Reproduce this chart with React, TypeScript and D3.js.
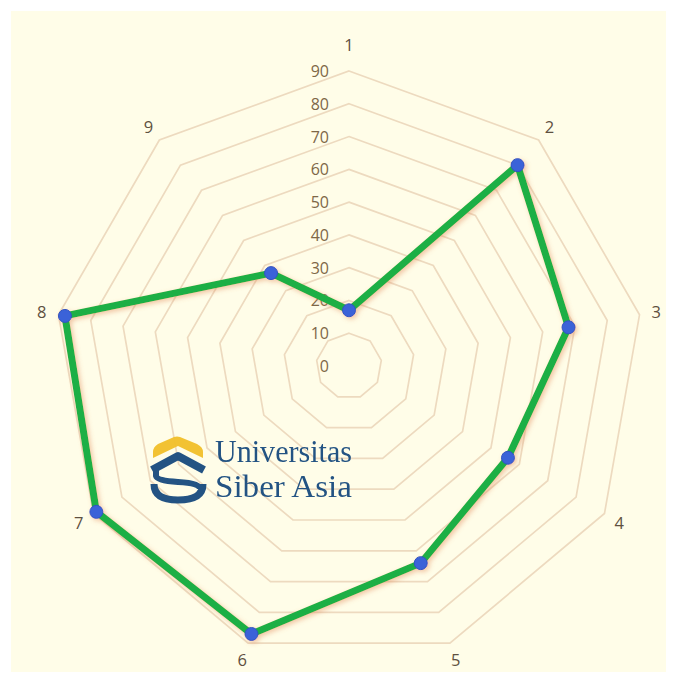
import React from "react";
import * as d3 from "d3";

const categories = ["1", "2", "3", "4", "5", "6", "7", "8", "9"];
const values = [17, 80, 68, 56, 64, 87, 89, 88, 37];
const ticks = [0, 10, 20, 30, 40, 50, 60, 70, 80, 90];

const W = 677;
const H = 683;
const cx = 349;
const cy = 366;
const R = 295;

export default function App() {
  const r = d3.scaleLinear().domain([0, 90]).range([0, R]);
  const n = categories.length;
  const ang = (i: number) => (i * 2 * Math.PI) / n;
  const pt = (i: number, v: number): [number, number] => [
    cx + r(v) * Math.sin(ang(i)),
    cy - r(v) * Math.cos(ang(i)),
  ];
  const ring = (v: number) =>
    d3.line()(categories.map((_, i) => pt(i, v))) + "Z";
  const series = d3.line()(values.map((v, i) => pt(i, v))) + "Z";
  const labelR = 312;
  const font = "'Open Sans', 'Noto Sans', sans-serif";

  return (
    <svg
      width={W}
      height={H}
      style={{ position: "absolute", left: 0, top: 0 }}
      xmlns="http://www.w3.org/2000/svg"
    >
      <defs>
        <filter id="glow" x="-10%" y="-10%" width="120%" height="120%">
          <feGaussianBlur in="SourceAlpha" stdDeviation="2.5" result="b" />
          <feOffset in="b" dx="2" dy="2" result="o" />
          <feFlood floodColor="#E0824F" floodOpacity="0.45" />
          <feComposite in2="o" operator="in" result="s" />
          <feMerge>
            <feMergeNode in="s" />
            <feMergeNode in="SourceGraphic" />
          </feMerge>
        </filter>
      </defs>
      <rect x={0} y={0} width={W} height={H} fill="#ffffff" />
      <rect x={11} y={11} width={655} height={661} fill="#FFFDE8" />
      {ticks
        .filter((t) => t > 0)
        .map((t) => (
          <path
            key={t}
            d={ring(t)}
            fill="none"
            stroke="#EDDABF"
            strokeWidth={1.7}
          />
        ))}
      {ticks.map((t) => (
        <text
          key={"t" + t}
          x={329}
          y={cy - r(t)}
          textAnchor="end"
          dominantBaseline="central"
          fontFamily={font}
          fontSize={16}
          fill="#7E6747"
        >
          {t}
        </text>
      ))}
      {categories.map((c, i) => {
        const lx = cx + labelR * Math.sin(ang(i));
        const ly = cy - labelR * Math.cos(ang(i)) - (i === 0 ? 10 : 0);
        return (
          <text
            key={"c" + c}
            x={lx}
            y={ly}
            textAnchor="middle"
            dominantBaseline="central"
            fontFamily={font}
            fontSize={16.5}
            fill="#5E5040"
          >
            {c}
          </text>
        );
      })}
      {/* watermark logo */}
      <g opacity={0.97}>
        <path
          d="M153,458 L153,452 Q153,447 158,444 L174,437 Q177,436 180,437 L197,444 Q203,447 203,452 L203,458 L178,446 Z"
          fill="#F2C12E"
        />
        <path
          d="M152,470 L178,456 L204,470"
          fill="none"
          stroke="#1C4E80"
          strokeWidth={8}
          strokeLinejoin="round"
        />
        <path
          d="M156,468 L156,476 Q157,481 178,482 Q200,483 200,489"
          fill="none"
          stroke="#1C4E80"
          strokeWidth={6}
        />
        <path
          d="M154,484 Q154,500 178,500 Q203,500 203,484"
          fill="none"
          stroke="#1C4E80"
          strokeWidth={7}
        />
        <text
          x={215}
          y={462}
          fontFamily="'Liberation Serif', 'DejaVu Serif', serif"
          fontSize={32}
          fill="#1C4E80"
          textLength={137}
          lengthAdjust="spacingAndGlyphs"
        >
          Universitas
        </text>
        <text
          x={215}
          y={497}
          fontFamily="'Liberation Serif', 'DejaVu Serif', serif"
          fontSize={32}
          fill="#1C4E80"
          textLength={137}
          lengthAdjust="spacingAndGlyphs"
        >
          Siber Asia
        </text>
      </g>
      <g filter="url(#glow)">
        <path
          d={series}
          fill="none"
          stroke="#1DAF45"
          strokeWidth={7}
          strokeLinejoin="round"
        />
        {values.map((v, i) => {
          const [x, y] = pt(i, v);
          return (
            <circle
              key={"p" + i}
              cx={x}
              cy={y}
              r={6.5}
              fill="#3A62D8"
              stroke="#2F55C0"
              strokeWidth={1}
            />
          );
        })}
      </g>
    </svg>
  );
}
